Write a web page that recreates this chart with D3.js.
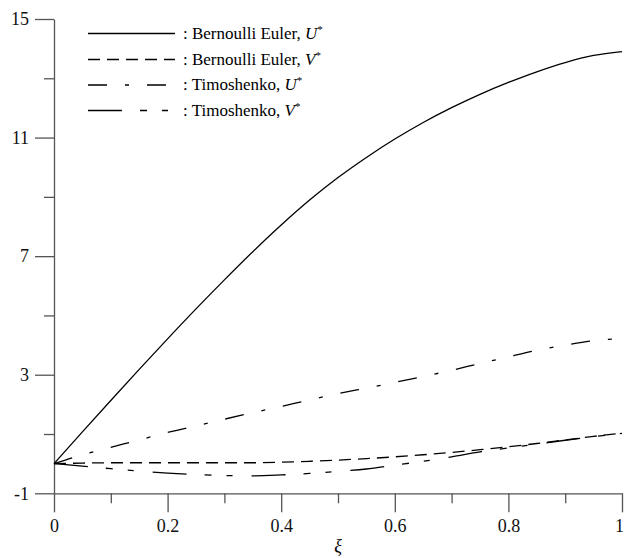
<!DOCTYPE html>
<html>
<head>
<meta charset="utf-8">
<script src="https://d3js.org/d3.v7.min.js"></script>
<style>
  body { margin: 0; background: #fff; }
  svg { display: block; font-family: "Liberation Serif", "Times New Roman", serif; }
</style>
</head>
<body>
<svg id="chart" width="625" height="558"></svg>
<script>
// x positions (xi) shared by all series
const xi = [0, 0.05, 0.1, 0.15, 0.2, 0.25, 0.3, 0.35, 0.4, 0.45, 0.5,
            0.55, 0.6, 0.65, 0.7, 0.75, 0.8, 0.85, 0.9, 0.95, 1];

const bernoulliU = [0, 1.07, 2.13, 3.18, 4.21, 5.22, 6.2, 7.15, 8.05, 8.89, 9.65,
                    10.33, 10.95, 11.51, 12.01, 12.46, 12.86, 13.22, 13.53, 13.77, 13.9];
const bernoulliV = [0, 0.02, 0.03, 0.03, 0.03, 0.03, 0.03, 0.03, 0.05, 0.08, 0.12,
                    0.17, 0.23, 0.3, 0.38, 0.47, 0.57, 0.68, 0.8, 0.92, 1.03];
const timoU = [0, 0.3, 0.55, 0.8, 1.05, 1.27, 1.5, 1.72, 1.93, 2.15, 2.36,
               2.55, 2.74, 2.94, 3.15, 3.38, 3.6, 3.82, 4.0, 4.15, 4.22];
const timoV = [0, -0.08, -0.17, -0.25, -0.32, -0.37, -0.4, -0.41, -0.38, -0.33, -0.26,
               -0.18, -0.05, 0.08, 0.23, 0.4, 0.53, 0.66, 0.79, 0.91, 1.02];

const legendNames = ["Bernoulli Euler", "Bernoulli Euler", "Timoshenko", "Timoshenko"];
const legendVars = ["U", "V", "U", "V"];

const xTicks = [0, 0.2, 0.4, 0.6, 0.8, 1];
const xMinor = [0.1, 0.3, 0.5, 0.7, 0.9];
const yTicks = [-1, 3, 7, 11, 15];
const yMinor = [1, 5, 9, 13];

const series = [
  { values: bernoulliU, dash: null },
  { values: bernoulliV, dash: "12,7" },
  { values: timoU, dash: "19,18,4,18" },
  { values: timoV, dash: "34,18,7,15,6,19" }
];

const svg = d3.select("#chart");
const x = d3.scaleLinear().domain([0, 1]).range([54, 622]);
const y = d3.scaleLinear().domain([-1, 15]).range([493.3, 19]);

const axisColor = "#555";

// minor ticks first
svg.append("g")
  .attr("transform", `translate(0,${y(-1)})`)
  .call(d3.axisBottom(x).tickValues(xMinor).tickSize(10).tickFormat(""))
  .call(g => g.select(".domain").remove());
svg.append("g")
  .attr("transform", `translate(${x(0)},0)`)
  .call(d3.axisLeft(y).tickValues(yMinor).tickSize(10).tickFormat(""))
  .call(g => g.select(".domain").remove());

const xAxis = svg.append("g")
  .attr("transform", `translate(0,${y(-1)})`)
  .call(d3.axisBottom(x).tickValues(xTicks).tickSize(19).tickSizeOuter(0)
    .tickPadding(7).tickFormat(d => d));
const yAxis = svg.append("g")
  .attr("transform", `translate(${x(0)},0)`)
  .call(d3.axisLeft(y).tickValues(yTicks).tickSize(19).tickSizeOuter(0)
    .tickPadding(6).tickFormat(d => d));

svg.selectAll("g").attr("font-family", null);
svg.selectAll(".tick line, .domain")
  .attr("stroke", axisColor)
  .attr("stroke-width", 1.3);
svg.selectAll(".tick text")
  .attr("fill", "#111")
  .style("font-family", "'Liberation Serif', serif")
  .style("font-size", "18px");
// keep the last x label inside the page
xAxis.selectAll(".tick text").filter(d => d === 1).attr("dx", -3);

svg.append("text")
  .attr("x", x(0.5))
  .attr("y", 552)
  .attr("text-anchor", "middle")
  .style("font-size", "18px")
  .style("font-style", "italic")
  .text("ξ");

const line = d3.line()
  .x((d, i) => x(xi[i]))
  .y(d => y(d))
  .curve(d3.curveMonotoneX);

svg.append("g")
  .selectAll("path")
  .data(series)
  .join("path")
  .attr("fill", "none")
  .attr("stroke", "#000")
  .attr("stroke-width", 1.3)
  .attr("stroke-dasharray", d => d.dash)
  .attr("d", d => line(d.values));

// Legend
const legend = svg.append("g");
const rowY = [33.5, 59.5, 85, 110.5];
series.forEach((s, i) => {
  legend.append("line")
    .attr("x1", 88).attr("x2", 175)
    .attr("y1", rowY[i]).attr("y2", rowY[i])
    .attr("stroke", "#000")
    .attr("stroke-width", 1.3)
    .attr("stroke-dasharray", s.dash);
  const t = legend.append("text")
    .attr("x", 183)
    .attr("y", rowY[i] + 5)
    .style("font-family", "'Liberation Serif', serif")
    .style("font-size", "17px");
  t.append("tspan").text(`: ${legendNames[i]}, `);
  t.append("tspan").style("font-style", "italic").text(legendVars[i]);
  t.append("tspan").attr("dy", -6).style("font-size", "11px").text("*");
});
</script>
</body>
</html>
